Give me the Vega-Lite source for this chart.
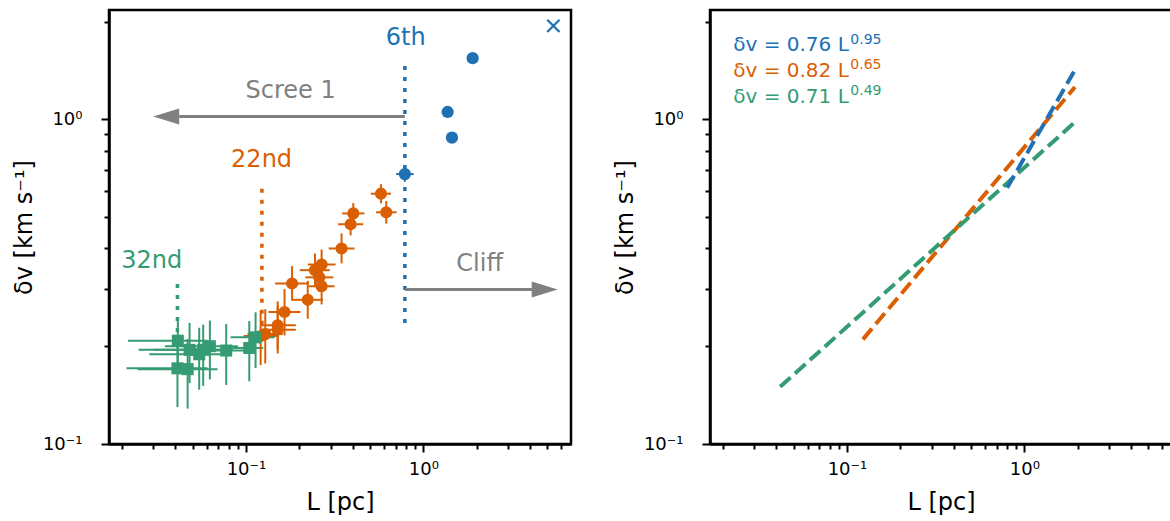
{
  "$schema": "https://vega.github.io/schema/vega-lite/v6.json",
  "padding": {"left": 10, "top": 8, "right": 0, "bottom": 0},
  "bounds": "flush",
  "spacing": 139,
  "config": {
    "font": "DejaVu Sans",
    "view": {"stroke": "black", "strokeWidth": 2.5},
    "axis": {
      "grid": false,
      "domainColor": "black",
      "domainWidth": 2.5,
      "tickColor": "black",
      "tickWidth": 2,
      "labelFontSize": 18,
      "labelColor": "black",
      "titleFontSize": 24,
      "titleFontWeight": "normal",
      "titleColor": "black",
      "labelFlush": false,
      "labelOverlap": false
    },
    "axisX": {
      "title": "L [pc]",
      "titleY": 65, "titleBaseline": "alphabetic",
      "values": [0.02, 0.03, 0.04, 0.05, 0.06, 0.07, 0.08, 0.09, 0.1, 0.2, 0.3, 0.4, 0.5, 0.6, 0.7, 0.8, 0.9, 1, 2, 3, 4, 5, 6],
      "labelExpr": "datum.value == 0.1 ? '10⁻¹' : (datum.value == 1 ? '10⁰' : '')",
      "tickSize": {"condition": {"test": "datum.value == 0.1 || datum.value == 1", "value": 8}, "value": 5}
    },
    "axisY": {
      "title": "δv [km s⁻¹]",
      "titleX": -85, "titleBaseline": "middle",
      "values": [0.1, 0.2, 0.3, 0.4, 0.5, 0.6, 0.7, 0.8, 0.9, 1, 2],
      "labelExpr": "datum.value == 0.1 ? '10⁻¹' : (datum.value == 1 ? '10⁰' : '')",
      "tickSize": {"condition": {"test": "datum.value == 0.1 || datum.value == 1", "value": 8}, "value": 5}
    }
  },
  "datasets": {
    "pts": [
      {"tier": "high", "L": 1.897, "Llo": 1.801, "Lhi": 1.998, "dv": 1.542, "dvlo": 1.51, "dvhi": 1.575},
      {"tier": "high", "L": 1.371, "Llo": 1.302, "Lhi": 1.444, "dv": 1.053, "dvlo": 1.031, "dvhi": 1.076},
      {"tier": "high", "L": 1.45, "Llo": 1.376, "Lhi": 1.527, "dv": 0.878, "dvlo": 0.859, "dvhi": 0.897},
      {"tier": "high", "L": 0.787, "Llo": 0.703, "Lhi": 0.882, "dv": 0.678, "dvlo": 0.642, "dvhi": 0.716},
      {"tier": "mid", "L": 0.577, "Llo": 0.506, "Lhi": 0.657, "dv": 0.59, "dvlo": 0.551, "dvhi": 0.631},
      {"tier": "mid", "L": 0.618, "Llo": 0.541, "Lhi": 0.707, "dv": 0.517, "dvlo": 0.477, "dvhi": 0.56},
      {"tier": "mid", "L": 0.403, "Llo": 0.349, "Lhi": 0.465, "dv": 0.513, "dvlo": 0.477, "dvhi": 0.552},
      {"tier": "mid", "L": 0.389, "Llo": 0.331, "Lhi": 0.458, "dv": 0.475, "dvlo": 0.439, "dvhi": 0.513},
      {"tier": "mid", "L": 0.346, "Llo": 0.293, "Lhi": 0.409, "dv": 0.4, "dvlo": 0.36, "dvhi": 0.445},
      {"tier": "mid", "L": 0.267, "Llo": 0.223, "Lhi": 0.32, "dv": 0.357, "dvlo": 0.321, "dvhi": 0.397},
      {"tier": "mid", "L": 0.245, "Llo": 0.201, "Lhi": 0.297, "dv": 0.343, "dvlo": 0.305, "dvhi": 0.386},
      {"tier": "mid", "L": 0.259, "Llo": 0.216, "Lhi": 0.311, "dv": 0.326, "dvlo": 0.294, "dvhi": 0.363},
      {"tier": "mid", "L": 0.267, "Llo": 0.226, "Lhi": 0.316, "dv": 0.306, "dvlo": 0.269, "dvhi": 0.348},
      {"tier": "mid", "L": 0.182, "Llo": 0.146, "Lhi": 0.226, "dv": 0.312, "dvlo": 0.276, "dvhi": 0.353},
      {"tier": "mid", "L": 0.223, "Llo": 0.184, "Lhi": 0.272, "dv": 0.278, "dvlo": 0.243, "dvhi": 0.318},
      {"tier": "mid", "L": 0.165, "Llo": 0.134, "Lhi": 0.203, "dv": 0.255, "dvlo": 0.216, "dvhi": 0.3},
      {"tier": "mid", "L": 0.151, "Llo": 0.12, "Lhi": 0.191, "dv": 0.232, "dvlo": 0.196, "dvhi": 0.275},
      {"tier": "mid", "L": 0.151, "Llo": 0.12, "Lhi": 0.191, "dv": 0.225, "dvlo": 0.19, "dvhi": 0.267},
      {"tier": "mid", "L": 0.1285, "Llo": 0.102, "Lhi": 0.161, "dv": 0.218, "dvlo": 0.177, "dvhi": 0.26},
      {"tier": "mid", "L": 0.121, "Llo": 0.097, "Lhi": 0.152, "dv": 0.215, "dvlo": 0.175, "dvhi": 0.257},
      {"tier": "low", "L": 0.0413, "Llo": 0.0216, "Lhi": 0.061, "dv": 0.208, "dvlo": 0.174, "dvhi": 0.242},
      {"tier": "low", "L": 0.0411, "Llo": 0.0212, "Lhi": 0.0607, "dv": 0.171, "dvlo": 0.13, "dvhi": 0.213},
      {"tier": "low", "L": 0.0469, "Llo": 0.0245, "Lhi": 0.0692, "dv": 0.17, "dvlo": 0.1285, "dvhi": 0.2105},
      {"tier": "low", "L": 0.0481, "Llo": 0.0248, "Lhi": 0.071, "dv": 0.195, "dvlo": 0.154, "dvhi": 0.236},
      {"tier": "low", "L": 0.0545, "Llo": 0.0285, "Lhi": 0.0805, "dv": 0.189, "dvlo": 0.147, "dvhi": 0.228},
      {"tier": "low", "L": 0.0574, "Llo": 0.03, "Lhi": 0.0848, "dv": 0.195, "dvlo": 0.151, "dvhi": 0.233},
      {"tier": "low", "L": 0.0626, "Llo": 0.0349, "Lhi": 0.09, "dv": 0.2, "dvlo": 0.158, "dvhi": 0.24},
      {"tier": "low", "L": 0.0774, "Llo": 0.046, "Lhi": 0.107, "dv": 0.194, "dvlo": 0.152, "dvhi": 0.234},
      {"tier": "low", "L": 0.1044, "Llo": 0.0837, "Lhi": 0.125, "dv": 0.1976, "dvlo": 0.156, "dvhi": 0.239},
      {"tier": "low", "L": 0.1133, "Llo": 0.0819, "Lhi": 0.145, "dv": 0.213, "dvlo": 0.1714, "dvhi": 0.2545}
    ],
    "cuts": [
      {"tier": "high", "L": 0.787, "top": 1.46, "bottom": 0.225},
      {"tier": "mid", "L": 0.123, "top": 0.611, "bottom": 0.22},
      {"tier": "low", "L": 0.0411, "top": 0.311, "bottom": 0.2}
    ],
    "arrows": [
      {"dir": "left", "from": 0.787, "to": 0.042, "tip": 0.03, "dv": 1.02},
      {"dir": "right", "from": 0.787, "to": 4.23, "tip": 5.72, "dv": 0.299}
    ],
    "notes": [
      {"label": "6th", "tier": "high", "L": 0.795, "dv": 1.695},
      {"label": "22nd", "tier": "mid", "L": 0.1225, "dv": 0.713},
      {"label": "32nd", "tier": "low", "L": 0.0294, "dv": 0.348},
      {"label": "Scree 1", "tier": "note", "L": 0.1786, "dv": 1.163},
      {"label": "Cliff", "tier": "note", "L": 2.077, "dv": 0.34}
    ],
    "cross": [{"tier": "high", "L": 5.41, "dv": 1.94}],
    "fits": [
      {"tier": "mid", "L": 0.123, "dv": 0.21},
      {"tier": "mid", "L": 1.93, "dv": 1.257},
      {"tier": "low", "L": 0.042, "dv": 0.15},
      {"tier": "low", "L": 1.93, "dv": 0.98},
      {"tier": "high", "L": 0.8, "dv": 0.615},
      {"tier": "high", "L": 1.93, "dv": 1.419}
    ],
    "eqs": [
      {"tier": "high", "main": "δv = 0.76 L", "sup": "0.95", "L": 0.02285, "dv": 1.624, "Ls": 0.1045, "dvs": 1.711},
      {"tier": "mid", "main": "δv = 0.82 L", "sup": "0.65", "L": 0.02285, "dv": 1.35, "Ls": 0.1045, "dvs": 1.429},
      {"tier": "low", "main": "δv = 0.71 L", "sup": "0.49", "L": 0.02285, "dv": 1.125, "Ls": 0.1045, "dvs": 1.186}
    ]
  },
  "hconcat": [
    {
      "width": 462,
      "height": 434,
      "layer": [
        {
          "data": {"name": "cuts"},
          "mark": {"type": "rule", "strokeWidth": 3.5, "strokeDash": [4, 7]},
          "encoding": {
            "x": {"field": "L", "type": "quantitative", "title": "L [pc]",
              "scale": {"type": "log", "domain": [0.0169, 6.8], "nice": false},
              "axis": {"labelPadding": 8, "labelFontSize": 18}},
            "y": {"field": "top", "type": "quantitative", "title": "δv [km s⁻¹]",
              "scale": {"type": "log", "domain": [0.1, 2.17], "nice": false},
              "axis": {"labelPadding": 19, "labelFontSize": 18}},
            "y2": {"field": "bottom"},
            "color": {"field": "tier", "type": "nominal", "legend": null,
              "scale": {"domain": ["high", "mid", "low", "note"], "range": ["#2070b4", "#d95f02", "#359b73", "#808080"]}}
          }
        },
        {
          "data": {"name": "arrows"},
          "mark": {"type": "rule", "strokeWidth": 3, "color": "#808080"},
          "encoding": {
            "x": {"field": "from", "type": "quantitative", "title": "L [pc]"},
            "x2": {"field": "to"},
            "y": {"field": "dv", "type": "quantitative", "title": "δv [km s⁻¹]"}
          }
        },
        {
          "data": {"name": "arrows"},
          "transform": [{"filter": "datum.dir == 'right'"}],
          "mark": {"type": "point", "shape": "M0,0L-2,-0.62L-2,0.62Z", "filled": true, "size": 676, "color": "#808080", "opacity": 1},
          "encoding": {
            "x": {"field": "tip", "type": "quantitative", "title": "L [pc]"},
            "y": {"field": "dv", "type": "quantitative", "title": "δv [km s⁻¹]"}
          }
        },
        {
          "data": {"name": "arrows"},
          "transform": [{"filter": "datum.dir == 'left'"}],
          "mark": {"type": "point", "shape": "M0,0L2,-0.62L2,0.62Z", "filled": true, "size": 676, "color": "#808080", "opacity": 1},
          "encoding": {
            "x": {"field": "tip", "type": "quantitative", "title": "L [pc]"},
            "y": {"field": "dv", "type": "quantitative", "title": "δv [km s⁻¹]"}
          }
        },
        {
          "data": {"name": "pts"},
          "mark": {"type": "rule", "strokeWidth": 2},
          "encoding": {
            "x": {"field": "Llo", "type": "quantitative", "title": "L [pc]"},
            "x2": {"field": "Lhi"},
            "y": {"field": "dv", "type": "quantitative", "title": "δv [km s⁻¹]"},
            "color": {"field": "tier", "type": "nominal", "legend": null}
          }
        },
        {
          "data": {"name": "pts"},
          "mark": {"type": "rule", "strokeWidth": 2},
          "encoding": {
            "x": {"field": "L", "type": "quantitative", "title": "L [pc]"},
            "y": {"field": "dvlo", "type": "quantitative", "title": "δv [km s⁻¹]"},
            "y2": {"field": "dvhi"},
            "color": {"field": "tier", "type": "nominal", "legend": null}
          }
        },
        {
          "data": {"name": "pts"},
          "mark": {"type": "point", "filled": true, "opacity": 1},
          "encoding": {
            "x": {"field": "L", "type": "quantitative", "title": "L [pc]"},
            "y": {"field": "dv", "type": "quantitative", "title": "δv [km s⁻¹]"},
            "color": {"field": "tier", "type": "nominal", "legend": null},
            "shape": {"field": "tier", "type": "nominal", "legend": null,
              "scale": {"domain": ["high", "mid", "low"], "range": ["circle", "circle", "square"]}},
            "size": {"field": "tier", "type": "nominal", "legend": null,
              "scale": {"domain": ["high", "mid", "low"], "range": [150, 145, 165]}}
          }
        },
        {
          "data": {"name": "cross"},
          "mark": {"type": "point", "shape": "M-1,-1L1,1M-1,1L1,-1", "filled": false, "size": 150, "strokeWidth": 2.2, "opacity": 1},
          "encoding": {
            "x": {"field": "L", "type": "quantitative", "title": "L [pc]"},
            "y": {"field": "dv", "type": "quantitative", "title": "δv [km s⁻¹]"},
            "color": {"field": "tier", "type": "nominal", "legend": null}
          }
        },
        {
          "data": {"name": "notes"},
          "mark": {"type": "text", "fontSize": 24, "align": "center", "baseline": "alphabetic"},
          "encoding": {
            "x": {"field": "L", "type": "quantitative", "title": "L [pc]"},
            "y": {"field": "dv", "type": "quantitative", "title": "δv [km s⁻¹]"},
            "text": {"field": "label"},
            "color": {"field": "tier", "type": "nominal", "legend": null}
          }
        }
      ]
    },
    {
      "width": 462,
      "height": 434,
      "layer": [
        {
          "data": {"name": "fits"},
          "mark": {"type": "line", "strokeWidth": 4, "strokeDash": [14, 6]},
          "encoding": {
            "x": {"field": "L", "type": "quantitative", "title": "L [pc]",
              "scale": {"type": "log", "domain": [0.0169, 6.8], "nice": false},
              "axis": {"labelPadding": 8, "labelFontSize": 18}},
            "y": {"field": "dv", "type": "quantitative", "title": "δv [km s⁻¹]",
              "scale": {"type": "log", "domain": [0.1, 2.17], "nice": false},
              "axis": {"labelPadding": 19, "labelFontSize": 18}},
            "detail": {"field": "tier", "type": "nominal"},
            "color": {"field": "tier", "type": "nominal", "legend": null,
              "scale": {"domain": ["high", "mid", "low", "note"], "range": ["#2070b4", "#d95f02", "#359b73", "#808080"]}},
            "order": {"field": "L", "type": "quantitative"}
          }
        },
        {
          "data": {"name": "eqs"},
          "mark": {"type": "text", "fontSize": 20, "align": "left", "baseline": "alphabetic"},
          "encoding": {
            "x": {"field": "L", "type": "quantitative", "title": "L [pc]"},
            "y": {"field": "dv", "type": "quantitative", "title": "δv [km s⁻¹]"},
            "text": {"field": "main"},
            "color": {"field": "tier", "type": "nominal", "legend": null}
          }
        },
        {
          "data": {"name": "eqs"},
          "mark": {"type": "text", "fontSize": 14, "align": "left", "baseline": "alphabetic"},
          "encoding": {
            "x": {"field": "Ls", "type": "quantitative", "title": "L [pc]"},
            "y": {"field": "dvs", "type": "quantitative", "title": "δv [km s⁻¹]"},
            "text": {"field": "sup"},
            "color": {"field": "tier", "type": "nominal", "legend": null}
          }
        }
      ]
    }
  ]
}
